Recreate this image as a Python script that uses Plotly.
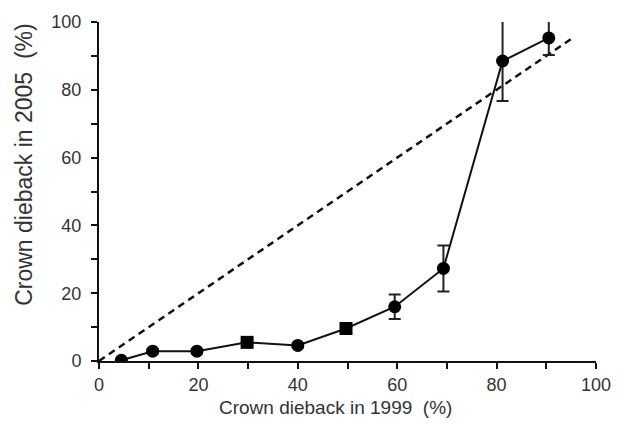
import plotly.graph_objects as go

# Crown dieback classes in 1999 (%) and mean dieback of the same trees in 2005 (%)
dieback_1999 = [4.5, 10.8, 19.7, 29.8, 40.0, 49.7, 59.5, 69.3, 81.2, 90.5]
dieback_2005 = [0.2, 2.9, 2.9, 5.5, 4.6, 9.6, 16.0, 27.3, 88.5, 95.3]
error_2005 = [0.5, 0.6, 0.6, 0.8, 0.6, 1.6, 3.6, 6.8, 11.8, 5.0]
marker_shapes = ["circle", "circle", "circle", "square", "circle",
                 "square", "circle", "circle", "circle", "circle"]

# 1:1 reference line
one_to_one_x = [0, 95]
one_to_one_y = [0, 95]

axis_ticks = list(range(0, 101, 10))
axis_labels = [str(v) if v % 20 == 0 else "" for v in axis_ticks]

x_title = "Crown dieback in 1999  (%)"
y_title = "Crown dieback in 2005  (%)"

fig = go.Figure()

fig.add_trace(go.Scatter(
    x=one_to_one_x, y=one_to_one_y, mode="lines",
    line=dict(color="#111111", width=2.5, dash="7px,5px"),
    hoverinfo="skip", showlegend=False,
))

fig.add_trace(go.Scatter(
    x=dieback_1999, y=dieback_2005, mode="lines+markers",
    line=dict(color="#111111", width=2),
    marker=dict(color="#000000", size=13, symbol=marker_shapes),
    error_y=dict(type="data", array=error_2005, visible=True,
                 color="#222222", thickness=2, width=6),
    showlegend=False,
))

label_font = dict(family="Liberation Sans, Arial", size=18, color="#333333")

axis_common = dict(
    range=[0, 100], showgrid=False, zeroline=False,
    showline=True, linecolor="#111111", linewidth=2,
    ticks="outside", ticklen=6, tickwidth=1.5, tickcolor="#111111",
    tickmode="array", tickvals=axis_ticks, ticktext=axis_labels,
    tickfont=label_font,
)

fig.update_layout(
    width=623, height=441,
    margin=dict(l=99, r=25, t=18, b=80),
    paper_bgcolor="white", plot_bgcolor="white",
    xaxis=dict(**axis_common),
    yaxis=dict(**axis_common, ticklabelstandoff=6),
    annotations=[
        dict(text=x_title, xref="paper", yref="paper", x=0.475, y=-0.137,
             xanchor="center", yanchor="middle", showarrow=False,
             font=dict(family="Liberation Sans, Arial", size=19, color="#333333")),
        dict(text=y_title, xref="paper", yref="paper", x=-0.150, y=0.58,
             xanchor="center", yanchor="middle", showarrow=False, textangle=-90,
             font=dict(family="Liberation Sans, Arial", size=23, color="#333333")),
    ],
)

fig.write_html("out.html")
